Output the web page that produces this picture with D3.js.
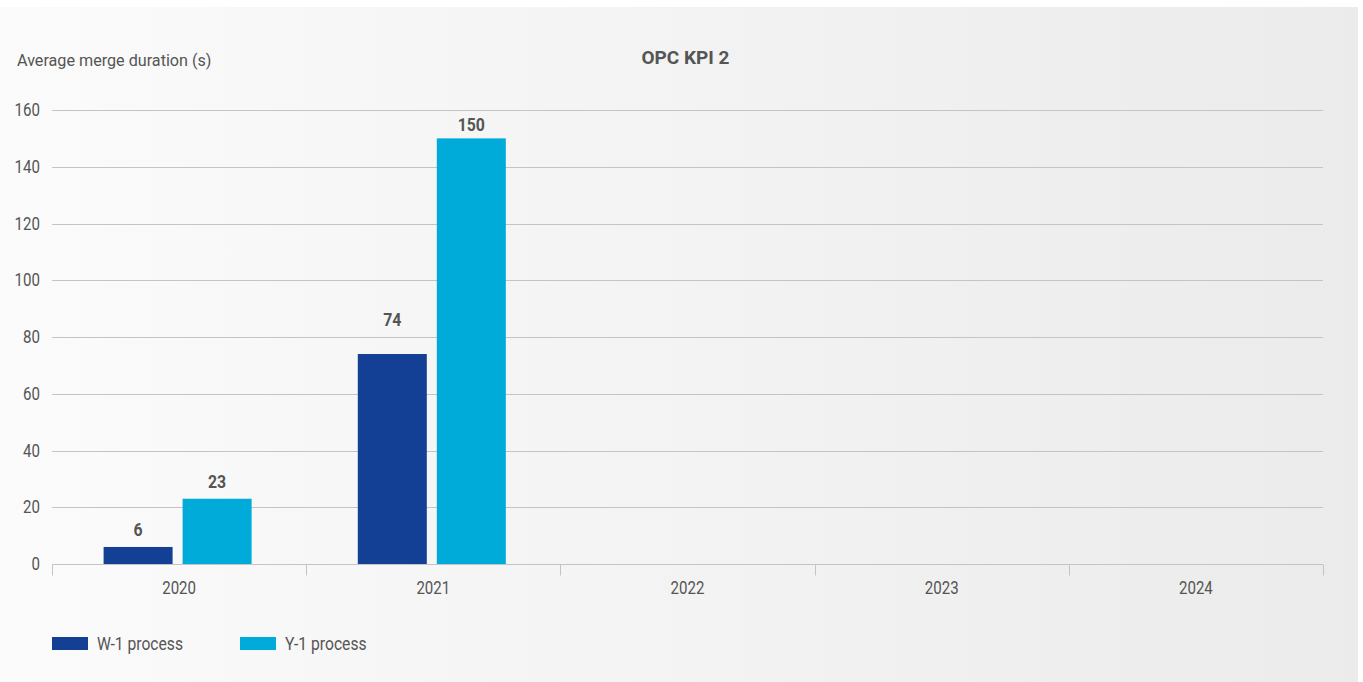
<!DOCTYPE html>
<html>
<head>
<meta charset="utf-8">
<script src="https://cdn.jsdelivr.net/npm/d3@7"></script>
<style>
  html, body { margin: 0; padding: 0; background: #ffffff; }
  svg { display: block; font-family: Roboto, "Noto Sans", sans-serif; }
</style>
</head>
<body>
<svg id="chart" width="1363" height="682"></svg>
<script>
// Chart data
const years = ["2020", "2021", "2022", "2023", "2024"];
const seriesNames = ["W-1 process", "Y-1 process"];
const w1Values = [6, 74, null, null, null];
const y1Values = [23, 150, null, null, null];
const yTicks = [0, 20, 40, 60, 80, 100, 120, 140, 160];
const seriesColors = ["#133f94", "#00abd9"];

const svg = d3.select("#chart");
const W = 1363, H = 682;
const margin = { left: 52, right: 40, top: 110, bottom: 118 };
const x0 = margin.left, x1 = W - margin.right;
const yBase = H - margin.bottom;
const textColor = "#555555";
const gridColor = "#c4c4c4";

// Narrow the text horizontally for a condensed look
function condense(sel, k) {
  sel.each(function () {
    const len = this.getComputedTextLength();
    d3.select(this).attr("textLength", len * k).attr("lengthAdjust", "spacingAndGlyphs");
  });
  return sel;
}

// Panel background with a soft horizontal gradient
const defs = svg.append("defs");
const grad = defs.append("linearGradient").attr("id", "bg").attr("x1", "0").attr("x2", "1").attr("y1", "0").attr("y2", "0");
grad.append("stop").attr("offset", "0").attr("stop-color", "#fbfbfb");
grad.append("stop").attr("offset", "1").attr("stop-color", "#ebebeb");
svg.append("rect").attr("x", 0).attr("y", 7).attr("width", 1358).attr("height", H - 7).attr("fill", "url(#bg)");

const x = d3.scaleBand().domain(years).range([x0, x1]).paddingInner(0).paddingOuter(0);
const y = d3.scaleLinear().domain([0, 160]).range([yBase, margin.top]);
const groupWidth = 148;
const xs = d3.scaleBand().domain(seriesNames).range([0, groupWidth]).paddingInner(10 / 79);

// Horizontal gridlines
const gridYs = yTicks.filter(d => d > 0).map(d => Math.round(y(d)) + 0.5);
svg.append("g").selectAll("line").data(gridYs).join("line")
  .attr("x1", x0).attr("x2", x1)
  .attr("y1", d => d).attr("y2", d => d)
  .attr("stroke", gridColor).attr("stroke-width", 1);

// Y axis labels
const yAxis = d3.axisLeft(y).tickValues(yTicks).tickSize(0).tickPadding(0);
const gy = svg.append("g").attr("transform", `translate(40,0)`).call(yAxis);
gy.select(".domain").remove();
gy.selectAll("text").attr("fill", textColor).style("font-size", "17.5px").style("font-family", "Roboto");
condense(gy.selectAll("text"), 0.86);

// X axis with band-boundary ticks
const gx = svg.append("g").attr("transform", `translate(0,${Math.round(yBase) + 0.5})`);
gx.append("line").attr("x1", x0).attr("x2", x1).attr("stroke", gridColor);
const bounds = years.map(d => x(d)).concat([x1]);
gx.selectAll("line.tk").data(bounds).join("line").attr("class", "tk")
  .attr("x1", d => Math.round(d) + 0.5).attr("x2", d => Math.round(d) + 0.5)
  .attr("y1", 0).attr("y2", 11).attr("stroke", gridColor);
const xl = gx.selectAll("text").data(years).join("text")
  .attr("x", d => x(d) + x.bandwidth() / 2).attr("y", 29)
  .attr("text-anchor", "middle").attr("fill", textColor)
  .style("font-size", "17.5px").text(d => d);
condense(xl, 0.86);

// Bars with value labels; labels step clear of gridlines
const groups = years.map((yr, i) => ({ yr, vals: [w1Values[i], y1Values[i]] }));
const g = svg.append("g");
const capH = 13;
groups.forEach(grp => {
  const gx0 = x(grp.yr) + (x.bandwidth() - groupWidth) / 2 - 1.5;
  grp.vals.forEach((v, j) => {
    if (v == null) return;
    const bx = gx0 + xs(seriesNames[j]);
    g.append("rect").attr("x", bx).attr("y", y(v)).attr("width", xs.bandwidth()).attr("height", y(0) - y(v))
      .attr("fill", seriesColors[j]);
    let base = y(v) - 11;
    const hit = gridYs.find(gl => gl > base - capH - 2 && gl < base + 3);
    if (hit !== undefined && hit > margin.top + 5) base = hit - 12;
    base = Math.max(base, margin.top + 21);
    const t = g.append("text").attr("x", bx + xs.bandwidth() / 2).attr("y", base)
      .attr("text-anchor", "middle").attr("fill", textColor)
      .style("font-size", "18px").style("font-weight", "bold").text(v);
    condense(t, 0.88);
  });
});

// Titles
const at = svg.append("text").attr("x", 17).attr("y", 65.5).attr("fill", textColor).style("font-size", "17px")
  .text("Average merge duration (s)");
condense(at, 0.95);
svg.append("text").attr("x", 685.5).attr("y", 63.5).attr("text-anchor", "middle").attr("fill", textColor)
  .style("font-size", "19px").style("font-weight", "bold").text("OPC KPI 2");

// Legend
const legX = [52, 240];
seriesNames.forEach((name, i) => {
  svg.append("rect").attr("x", legX[i]).attr("y", 637).attr("width", 36).attr("height", 13).attr("fill", seriesColors[i]);
  const lt = svg.append("text").attr("x", legX[i] + 45).attr("y", 650).attr("fill", textColor).style("font-size", "18px").text(name);
  condense(lt, 0.87);
});
</script>
</body>
</html>
